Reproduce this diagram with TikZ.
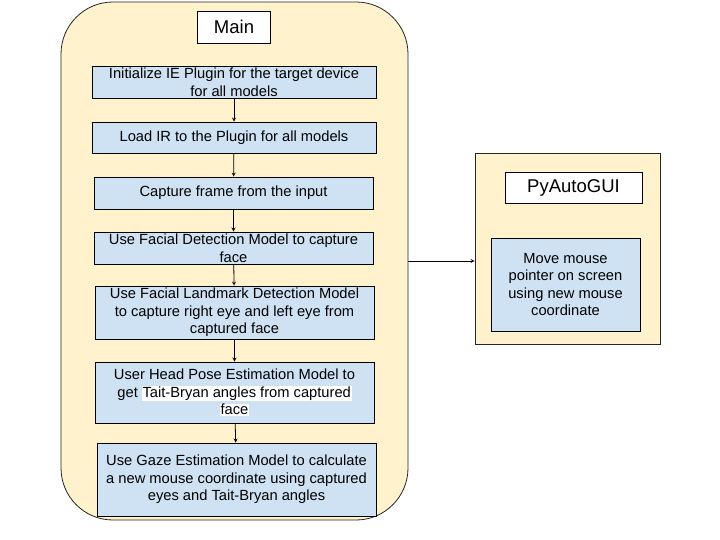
\documentclass[tikz,border=0pt]{standalone}
\usepackage{fontspec}
\setmainfont{Liberation Sans}
\usepackage{xcolor}
\usetikzlibrary{
  arrows,
  shapes
}
\definecolor{paleyellow}{HTML}{FFF2CC}
\definecolor{paleblue}{HTML}{CFE2F3}
\newcommand{\hlw}[1]{{\fboxsep=0.6pt\colorbox{white}{#1}}}

\begin{document}
\begin{tikzpicture}[
  x=1pt, y=-1pt,
  every node/.style = {shape=rectangle, draw, align=center,
    inner sep=0pt, line width=0.8pt,
    font=\fontsize{14.7}{17.5}\selectfont},
  container/.style = {fill=paleyellow, draw=black!85},
  titlebox/.style = {fill=white, font=\fontsize{18.5}{21}\selectfont},
  stepbox/.style = {fill=paleblue, minimum width=279pt},
  flow/.style = {-stealth, line width=0.8pt}]
  \useasboundingbox (0,0) rectangle (720,540);
  % containers
  \node[container, rounded corners=52pt, minimum width=347pt,
    minimum height=518pt] (main) at (234.5,261) {};
  \node[container, minimum width=185pt, minimum height=191pt]
    (gui) at (567.5,248.5) {};
  % main column
  \node[titlebox, minimum width=73pt, minimum height=32pt]
    (maintitle) at (234,27) {Main};
  \node[stepbox, minimum width=284pt, minimum height=32pt] (init) at (234,82)
    {Initialize IE Plugin for the target device\\for all models};
  \node[stepbox, minimum width=284pt, minimum height=31pt] (load) at (234,137.5)
    {Load IR to the Plugin for all models};
  \node[stepbox, minimum height=32pt] (capture) at (233.5,193)
    {Capture frame from the input};
  \node[stepbox, minimum height=32pt] (facedet) at (233.5,248)
    {Use Facial Detection Model to capture\\face};
  \node[stepbox, minimum height=53pt] (landmark) at (234.5,312.5)
    {Use Facial Landmark Detection Model\\to capture right eye and left eye from\\captured face};
  \node[stepbox, minimum height=61pt] (headpose) at (234.5,392.5)
    {User Head Pose Estimation Model to\\get \hlw{Tait-Bryan angles from captured}\\\hlw{face}};
  \node[stepbox, minimum height=73pt] (gaze) at (236.5,479.5)
    {Use Gaze Estimation Model to calculate\\a new mouse coordinate using captured\\eyes and Tait-Bryan angles};
  % right column
  \node[titlebox, minimum width=137pt, minimum height=31pt]
    (guititle) at (573.5,187.5) {PyAutoGUI};
  \node[stepbox, minimum width=149pt, minimum height=93pt] (move) at (565.5,284.5)
    {Move mouse\\pointer on screen\\using new mouse\\coordinate};
  % connectors
  \draw[flow] (init) -- (load);
  \draw[flow] (load) -- (capture);
  \draw[flow] (capture) -- (facedet);
  \draw[flow] (facedet) -- (landmark);
  \draw[flow] (landmark) -- (headpose);
  \draw[flow] (headpose) -- (gaze);
  \draw[flow] (main.east) -- (main.east -| gui.west);
\end{tikzpicture}
\end{document}
